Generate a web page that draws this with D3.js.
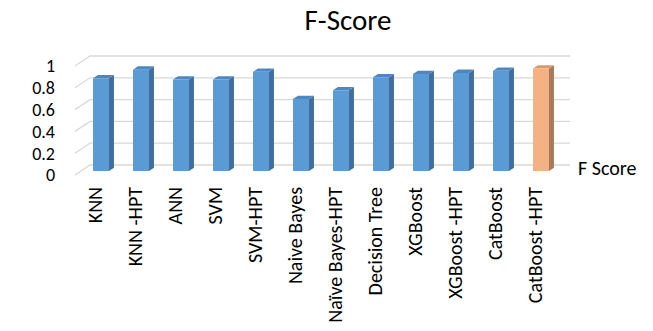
<!DOCTYPE html>
<html>
<head>
<meta charset="utf-8">
<script src="https://cdn.jsdelivr.net/npm/d3@7"></script>
<style>
  html, body { margin: 0; padding: 0; background: #fff; }
  svg { display: block; }
  text { font-family: Carlito, Calibri, Lato, sans-serif; fill: #000; }
</style>
</head>
<body>
<svg id="chart" width="653" height="331"></svg>
<script>
// Model names along the category axis
const models = ["KNN", "KNN -HPT", "ANN", "SVM", "SVM-HPT", "Naive Bayes", "Naïve Bayes-HPT",
  "Decision Tree", "XGBoost", "XGBoost -HPT", "CatBoost", "CatBoost -HPT"];
// F-score of each model
const fScores = [0.85, 0.93, 0.84, 0.84, 0.91, 0.66, 0.74, 0.86, 0.89, 0.90, 0.92, 0.94];
// Value-axis ticks
const yTicks = [0, 0.2, 0.4, 0.6, 0.8, 1];
const seriesName = "F Score";
const chartTitle = "F-Score";

const svg = d3.select("#chart");

// Front plane of the 3-D plot box; depth is an oblique offset toward the back wall
const x = d3.scaleBand().domain(models).range([75, 555]).paddingInner(0).paddingOuter(0);
const y = d3.scaleLinear().domain([0, 1]).range([175, 66]);
const depthX = 15, depthY = -10;
const pt = (px, v, f) => [px + depthX * f, y(v) + depthY * f];

// Gridlines: side wall diagonal + back wall horizontal
const grid = svg.append("g").attr("stroke", "#d9d9d9").attr("stroke-width", 1.3).attr("fill", "none");
yTicks.forEach(t => {
  const a = pt(x.range()[0], t, 0), b = pt(x.range()[0], t, 1), c = pt(x.range()[1], t, 1);
  grid.append("path").attr("d", d3.line()([a, b, c]));
});

// Value axis labels
svg.append("g").selectAll("text").data(yTicks).join("text")
  .attr("x", 55).attr("y", d => y(d)).attr("dy", "0.35em")
  .attr("text-anchor", "end").style("font-size", "18px")
  .text(d => d3.format("~g")(d));

// 3-D columns
const f1 = 0.4, f2 = 0.73;
const barW = x.bandwidth() * 0.4;
const palettes = {
  blue:   { front: "#5b9bd5", side: "#3f6f9f", top: "#4e87c0" },
  orange: { front: "#f4b183", side: "#a87a56", top: "#d9996c" }
};
const bars = svg.append("g").selectAll("g").data(models).join("g");
bars.each(function (m, i) {
  const g = d3.select(this);
  const v = fScores[i];
  const col = i === models.length - 1 ? palettes.orange : palettes.blue;
  const x0 = x(m) + (x.bandwidth() - barW) / 2, x1 = x0 + barW;
  const poly = pts => "M" + pts.map(p => p.join(",")).join("L") + "Z";
  g.append("path").attr("fill", col.side)
    .attr("d", poly([pt(x1, 0, f1), pt(x1, 0, f2), pt(x1, v, f2), pt(x1, v, f1)]));
  g.append("path").attr("fill", col.top)
    .attr("d", poly([pt(x0, v, f1), pt(x1, v, f1), pt(x1, v, f2), pt(x0, v, f2)]));
  g.append("path").attr("fill", col.front)
    .attr("d", poly([pt(x0, 0, f1), pt(x1, 0, f1), pt(x1, v, f1), pt(x0, v, f1)]));
});

// Category labels, rotated
svg.append("g").selectAll("text").data(models).join("text")
  .attr("transform", d => `translate(${x(d) + x.bandwidth() / 2},187) rotate(-90)`)
  .attr("dy", "0.35em").attr("text-anchor", "end").style("font-size", "20px")
  .text(d => d);

// Series name at the right
svg.append("text").attr("x", 578).attr("y", 175).style("font-size", "20px").text(seriesName);

// Title
svg.append("text").attr("x", 348).attr("y", 30).attr("text-anchor", "middle")
  .style("font-size", "29px").text(chartTitle);
</script>
</body>
</html>
